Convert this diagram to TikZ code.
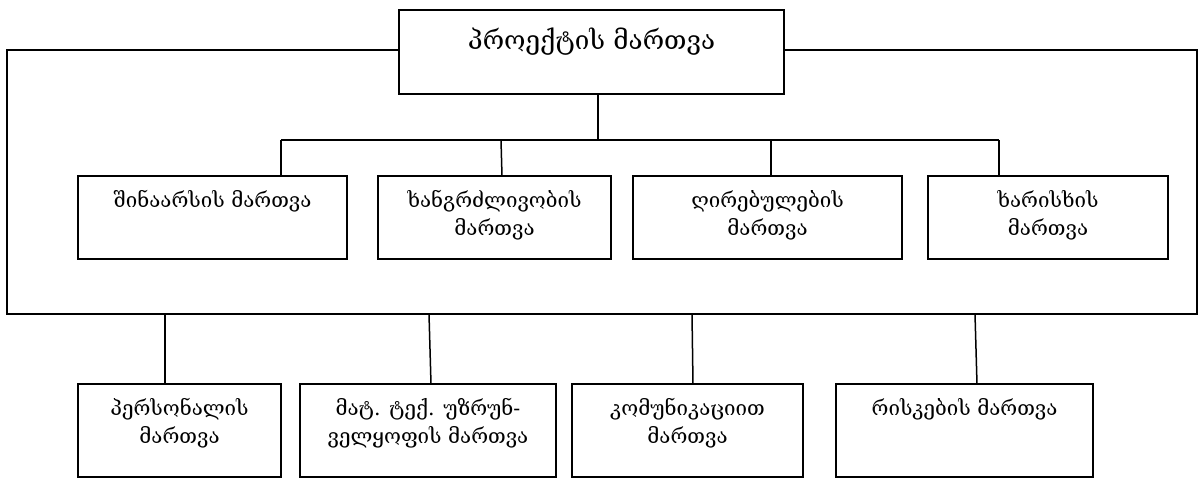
\documentclass[tikz,border=0pt]{standalone}
\usepackage{fontspec}
\newfontfamily\geo{DejaVu Serif}
\begin{document}
\begin{tikzpicture}[x=1pt,y=-1pt,
  box/.style={draw, line width=1.5pt, rectangle, inner sep=0pt, outer sep=0pt, anchor=north west},
  lbl/.style={anchor=north, align=center, inner sep=0pt, font=\geo\fontsize{20.5}{28}\selectfont},
  toplbl/.style={anchor=north, align=center, inner sep=0pt, font=\geo\fontsize{26}{30}\selectfont},
  link/.style={line width=1.5pt}]
\useasboundingbox (0,0) rectangle (1199,479);

% head box
\node[box, minimum width=385, minimum height=84] (top) at (399,10) {};
\node[toplbl] (ttop) at ([yshift=-18pt]top.north) {პროექტის მართვა};

% outer frame around the first group
\coordinate (fTL) at (7,50);
\coordinate (fBL) at (7,314);
\coordinate (fBR) at (1197,314);
\coordinate (fTR) at (1197,50);
\draw[link] (top.west |- fTL) -- (fTL) -- (fBL) -- (fBR) -- (fTR) -- (top.east |- fTR);

% first group of boxes
\node[box, minimum width=269, minimum height=83] (b1) at (78,176) {};
\node[box, minimum width=233, minimum height=83] (b2) at (378,176) {};
\node[box, minimum width=269, minimum height=83] (b3) at (633,176) {};
\node[box, minimum width=240, minimum height=83] (b4) at (928,176) {};

\node[lbl] (t1) at ([yshift=-14pt]b1.north) {შინაარსის მართვა};
\node[lbl] (t2) at ([yshift=-14pt]b2.north) {ხანგრძლივობის\\მართვა};
\node[lbl] (t3) at ([yshift=-14pt]b3.north) {ღირებულების\\მართვა};
\node[lbl] (t4) at ([yshift=-14pt]b4.north) {ხარისხის\\მართვა};

% bus from the head box
\coordinate (bus0) at (598,140);
\coordinate (bus1) at (281,140);
\coordinate (bus2) at (501,140);
\coordinate (bus3) at (771,140);
\coordinate (bus4) at (999,140);
\draw[link] (top.south -| bus0) -- (bus0);
\draw[link] (bus1) -- (bus4);
\draw[link] (bus1) -- (bus1 |- b1.north);
\draw[link] (bus2) -- ([xshift=1pt]bus2 |- b2.north);
\draw[link] (bus3) -- (bus3 |- b3.north);
\draw[link] (bus4) -- (bus4 |- b4.north);

% second group of boxes
\node[box, minimum width=203, minimum height=93] (b5) at (78,384) {};
\node[box, minimum width=256, minimum height=93] (b6) at (300,384) {};
\node[box, minimum width=231, minimum height=93] (b7) at (572,384) {};
\node[box, minimum width=257, minimum height=93] (b8) at (836,384) {};

\node[lbl] (t5) at ([yshift=-14pt]b5.north) {პერსონალის\\მართვა};
\node[lbl] (t6) at ([yshift=-14pt]b6.north) {მატ. ტექ. უზრუნ-\\ველყოფის მართვა};
\node[lbl] (t7) at ([yshift=-14pt]b7.north) {კომუნიკაციით\\მართვა};
\node[lbl] (t8) at ([yshift=-14pt]b8.north) {რისკების მართვა};

% drops from the frame
\coordinate (d5) at (165,314);
\coordinate (d6) at (429,314);
\coordinate (d7) at (692,314);
\coordinate (d8) at (975,314);
\draw[link] (d5) -- (d5 |- b5.north);
\draw[link] (d6) -- ([xshift=2pt]d6 |- b6.north);
\draw[link] (d7) -- ([xshift=1pt]d7 |- b7.north);
\draw[link] (d8) -- ([xshift=2pt]d8 |- b8.north);
\end{tikzpicture}
\end{document}
